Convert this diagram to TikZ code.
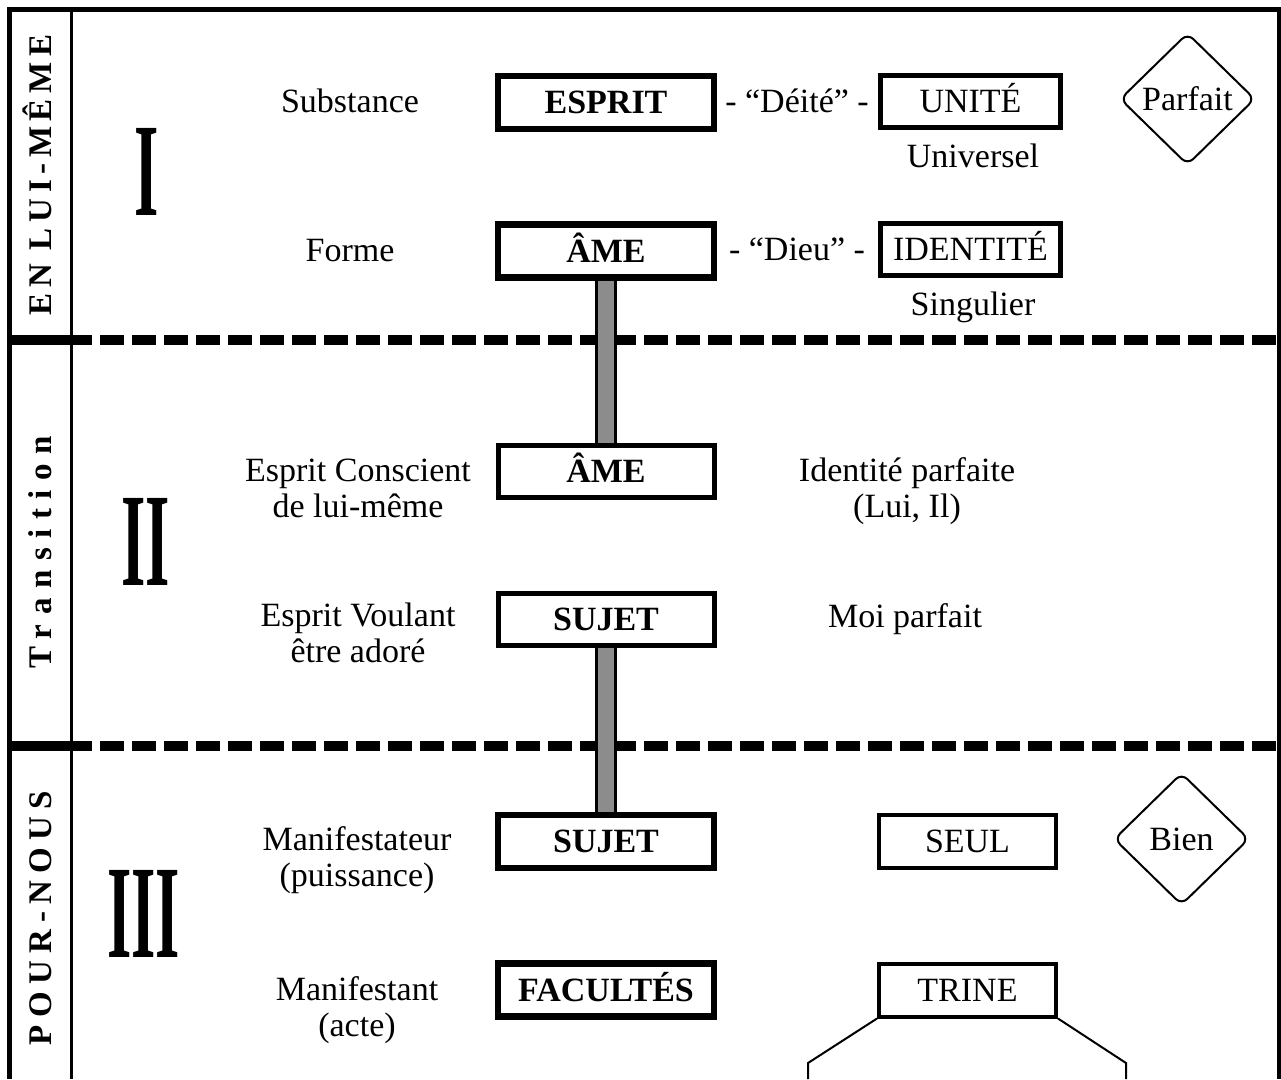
\documentclass[tikz,border=0pt]{standalone}
\usepackage{fontspec}
\usepackage{graphicx}
\setmainfont{Liberation Serif}
\usetikzlibrary{shapes.geometric}
\definecolor{barfill}{RGB}{140,140,140}
\tikzset{
  txt/.style={inner sep=0pt, align=center, anchor=base, font=\fontsize{34}{36}\selectfont},
  bigbox/.style={draw, fill=white, line width=6.5pt, minimum width=216pt, minimum height=53pt,
    inner sep=0pt, text height=22.5pt, text depth=0pt, font=\fontsize{34}{36}\selectfont\bfseries},
  midbox/.style={bigbox, line width=5pt, minimum height=52pt},
  smallbox/.style={draw, line width=5pt, minimum width=180pt, minimum height=52pt,
    inner sep=0pt, text height=22.5pt, text depth=0pt, font=\fontsize{34}{36}\selectfont},
  lowbox/.style={smallbox, line width=4pt, minimum width=177pt, minimum height=53pt},
  losange/.style={diamond, draw, line width=2pt, rounded corners=8pt, minimum width=135pt,
    minimum height=132pt, inner sep=0pt, font=\fontsize{34}{36}\selectfont},
  sidelab/.style={rotate=90, inner sep=0pt, text height=22.5pt, text depth=0pt,
    font=\fontsize{33}{33}\selectfont\bfseries},
  numeral/.style={anchor=base, inner sep=0pt, font=\fontsize{133}{133}\selectfont\bfseries},
  sep/.style={line width=10pt, dash pattern=on 24pt off 8pt},
  bar/.style={line width=3pt, double=barfill, double distance=16pt}
}
\begin{document}
\begin{tikzpicture}[x=1pt, y=-1pt]
  \useasboundingbox (0,0) rectangle (1281,1079);
  \draw[line width=5pt] (7,9.5) -- (1281,9.5);
  \draw[line width=5pt] (9.5,7) -- (9.5,1079);
  \draw[line width=4pt] (1278.5,7) -- (1278.5,1079);
  \draw[line width=3pt] (71.5,9.5) -- (71.5,1079);
  \draw[line width=10pt] (7,340) -- (92,340);
  \draw[sep] (100,340) -- (1281,340);
  \draw[line width=10pt] (7,746) -- (92,746);
  \draw[sep] (100,746) -- (1281,746);

  \draw
    (40,175) node[sidelab] (lui) {\addfontfeatures{LetterSpace=17}EN LUI-MÊME}
    (40,552) node[sidelab] (trans) {\addfontfeatures{LetterSpace=29}Transition}
    (40,918) node[sidelab] (nous) {\addfontfeatures{LetterSpace=22}POUR-NOUS}
    (147,215) node[numeral] (un) {\scalebox{0.47}[1]{I}}
    (146,585) node[numeral] (deux) {\scalebox{0.47}[1]{II}}
    (143.5,957) node[numeral] (trois) {\scalebox{0.47}[1]{III}};

  \draw
    (350,112) node[txt] (subst) {Substance}
    (350,261) node[txt] (forme) {Forme}
    (606,102.5) node[bigbox] (esprit) {ESPRIT}
    (606,251) node[bigbox] (ame) {ÂME}
    (797,112) node[txt] (deite) {- “Déité” -}
    (797,260) node[txt] (dieu) {- “Dieu” -}
    (970.5,101.5) node[smallbox] (unite) {UNITÉ}
    (970.5,249.5) node[smallbox] (ident) {IDENTITÉ}
    (973,167) node[txt] (univ) {Universel}
    (973,315) node[txt] (sing) {Singulier}
    (1187.5,99) node[losange] (parf) {Parfait};

  \draw
    (358,517) node[txt] (consc) {Esprit Conscient\\de lui-même}
    (358,662) node[txt] (voul) {Esprit Voulant\\être adoré}
    (606,471.5) node[midbox] (ameb) {ÂME}
    (606,619) node[midbox] (sujet) {SUJET}
    (907,517) node[txt] (idparf) {Identité parfaite\\(Lui, Il)}
    (905,627) node[txt] (moi) {Moi parfait};

  \draw
    (357,886) node[txt] (manr) {Manifestateur\\(puissance)}
    (357,1036) node[txt] (mant) {Manifestant\\(acte)}
    (606,841.5) node[bigbox] (sujetb) {SUJET}
    (606,990) node[bigbox] (facul) {FACULTÉS}
    (967.5,841.5) node[lowbox] (seul) {SEUL}
    (967.5,990) node[lowbox] (trine) {TRINE}
    (1181.5,839) node[losange] (bien) {Bien};

  \coordinate (tl) at (808,1063);
  \coordinate (tr) at (1126,1063);
  \coordinate (bl) at (808,1079);
  \coordinate (br) at (1126,1079);

  \draw[bar] (ame.south) -- (ameb.north);
  \draw[bar] (sujet.south) -- (sujetb.north);
  \begin{scope}[line width=2pt]
    \draw (trine.south west) -- (tl) -- (bl);
    \draw (trine.south east) -- (tr) -- (br);
  \end{scope}
\end{tikzpicture}
\end{document}
